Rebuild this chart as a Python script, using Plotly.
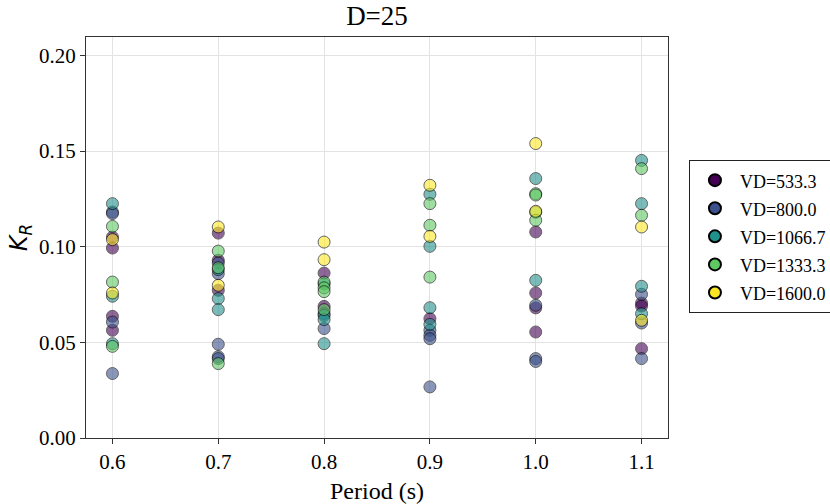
import plotly.graph_objects as go

# ---- data ----
vd_labels = ["VD=533.3", "VD=800.0", "VD=1066.7", "VD=1333.3", "VD=1600.0"]
vd_colors = ["#440154", "#3b528b", "#21918c", "#5ec962", "#fde725"]

vd533_period = [0.6, 0.6, 0.6, 0.6, 0.7, 0.7, 0.7, 0.8, 0.8, 0.9, 1.0, 1.0, 1.0, 1.0, 1.1, 1.1, 1.1]
vd533_kr = [0.105, 0.0993, 0.0636, 0.0563, 0.1071, 0.0929, 0.0772, 0.0862, 0.0688, 0.0624, 0.1077, 0.0758, 0.0680, 0.0554, 0.0705, 0.0690, 0.0467]

vd800_period = [0.6, 0.6, 0.6, 0.6, 0.7, 0.7, 0.7, 0.7, 0.7, 0.8, 0.8, 0.9, 0.9, 0.9, 0.9, 1.0, 1.0, 1.0, 1.1, 1.1, 1.1]
vd800_kr = [0.1181, 0.1173, 0.0606, 0.0337, 0.0915, 0.0859, 0.0490, 0.0425, 0.0415, 0.0650, 0.0572, 0.0563, 0.0537, 0.0519, 0.0267, 0.0694, 0.0415, 0.0400, 0.0751, 0.0601, 0.0415]

vd1066_period = [0.6, 0.6, 0.6, 0.7, 0.7, 0.7, 0.8, 0.8, 0.8, 0.8, 0.9, 0.9, 0.9, 0.9, 1.0, 1.0, 1.1, 1.1, 1.1, 1.1]
vd1066_kr = [0.1225, 0.0741, 0.0493, 0.0880, 0.0729, 0.0671, 0.0805, 0.0641, 0.0619, 0.0493, 0.1274, 0.1002, 0.0681, 0.0594, 0.1356, 0.0824, 0.1451, 0.1225, 0.0793, 0.0650]

vd1333_period = [0.6, 0.6, 0.6, 0.7, 0.7, 0.7, 0.8, 0.8, 0.8, 0.8, 0.9, 0.9, 0.9, 1.0, 1.0, 1.0, 1.0, 1.1, 1.1]
vd1333_kr = [0.1106, 0.0815, 0.0479, 0.0977, 0.0890, 0.0389, 0.0815, 0.0785, 0.0765, 0.0671, 0.1225, 0.1112, 0.0841, 0.1277, 0.1270, 0.1180, 0.1138, 0.1408, 0.1164]

vd1600_period = [0.6, 0.6, 0.7, 0.7, 0.8, 0.8, 0.9, 0.9, 1.0, 1.0, 1.1, 1.1]
vd1600_kr = [0.1037, 0.0758, 0.1103, 0.0798, 0.1024, 0.0932, 0.1321, 0.1054, 0.1539, 0.1185, 0.1103, 0.0615]

x_ticks = [0.6, 0.7, 0.8, 0.9, 1.0, 1.1]
y_ticks = [0.00, 0.05, 0.10, 0.15, 0.20]

series = [
    (vd533_period, vd533_kr),
    (vd800_period, vd800_kr),
    (vd1066_period, vd1066_kr),
    (vd1333_period, vd1333_kr),
    (vd1600_period, vd1600_kr),
]

fig = go.Figure()

for (px, py), name, col in zip(series, vd_labels, vd_colors):
    fig.add_trace(go.Scatter(
        x=px, y=py, mode="markers", name=name, showlegend=False,
        marker=dict(size=12, color=col, opacity=0.6,
                    line=dict(color="black", width=1)),
    ))

# opaque legend entries (text drawn at 18px inside a taller legend row)
for name, col in zip(vd_labels, vd_colors):
    fig.add_trace(go.Scatter(
        x=[None], y=[None], mode="markers",
        name=f'<span style="font-size:18px">{name}</span>',
        marker=dict(size=12, color=col, line=dict(color="black", width=1)),
    ))

serif = "Liberation Serif, Times New Roman, serif"

fig.update_layout(
    width=830, height=504,
    margin=dict(l=86, r=162, t=37, b=66, autoexpand=False),
    paper_bgcolor="white", plot_bgcolor="white",
    font=dict(family=serif, size=21, color="black"),
    title=dict(text="D=25", x=0.5, xref="paper", xanchor="center",
               y=1 - 16 / 504, yanchor="middle",
               font=dict(family=serif, size=27, color="black")),
    showlegend=True,
    legend=dict(x=1.036, y=0.693, xanchor="left", yanchor="top",
                bordercolor="#222", borderwidth=1, bgcolor="white",
                font=dict(family=serif, size=19.3, color="black"),
                itemsizing="constant", itemwidth=40, tracegroupgap=0),
)

fig.update_xaxes(
    range=[0.575, 1.125], tickvals=x_ticks, ticktext=[f"{v:.1f}" for v in x_ticks],
    showgrid=True, gridcolor="#e3e3e3", gridwidth=1,
    showline=True, linecolor="#333", linewidth=1.2, mirror=True,
    ticks="outside", ticklen=5, tickcolor="#333",
    zeroline=False, automargin=False,
    title=dict(text="Period (s)", font=dict(family=serif, size=24), standoff=8),
    tickfont=dict(family=serif, size=21),
)
fig.update_yaxes(
    range=[0, 0.2096], tickvals=y_ticks, ticktext=[f"{v:.2f}" for v in y_ticks],
    showgrid=True, gridcolor="#e3e3e3", gridwidth=1,
    showline=True, linecolor="#333", linewidth=1.2, mirror=True,
    ticks="outside", ticklen=5, tickcolor="#333",
    zeroline=False, automargin=False,
    title=dict(text="<i>K</i><sub><i>R</i></sub>",
               font=dict(family="DejaVu Sans", size=24), standoff=4),
    tickfont=dict(family=serif, size=21),
)

fig.write_html("out.html", config={"displayModeBar": False},
               post_script="document.body.style.margin='0px';")
